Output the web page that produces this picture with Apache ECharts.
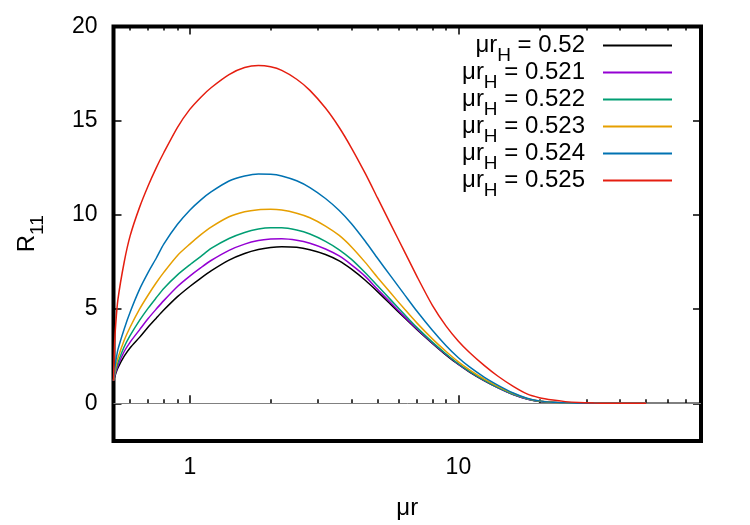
<!DOCTYPE html>
<html>
<head>
<meta charset="utf-8">
<script src="https://cdn.jsdelivr.net/npm/echarts@6/dist/echarts.min.js"></script>
<style>
html, body { margin: 0; padding: 0; background: #fff; }
#main { width: 750px; height: 525px; }
</style>
</head>
<body>
<div id="main"></div>
<script>
// mu*r sample points (log axis)
var xs = [0.52, 0.525, 0.53, 0.54, 0.57, 0.6, 0.65, 0.7, 0.75, 0.8, 0.9, 1.0, 1.1, 1.2, 1.4, 1.6, 1.8, 2.0, 2.2, 2.5,
          2.8, 3.2, 3.6, 4, 4.5, 5, 5.6, 6.3, 7, 8, 9, 10, 11, 12.5, 14, 16, 18, 20, 22.5, 25, 28, 32, 36, 40, 45, 50, 60, 80];

// R11 for each mu*r_H
var r052  = [1.2, 1.4, 1.57, 1.88, 2.5, 2.95, 3.5, 4.05, 4.52, 4.95, 5.66, 6.2, 6.65, 7.03, 7.6, 7.95, 8.16, 8.27, 8.31, 8.28,
             8.15, 7.9, 7.56, 7.12, 6.53, 5.93, 5.25, 4.54, 3.92, 3.18, 2.56, 2.06, 1.66, 1.19, 0.83, 0.46, 0.23, 0.1, 0.05, 0.02,
             0.01, 0, 0, 0, 0, 0, 0, 0];
var r0521 = [1.2, 1.45, 1.65, 2.0, 2.75, 3.25, 3.9, 4.5, 5.0, 5.45, 6.2, 6.75, 7.2, 7.58, 8.12, 8.45, 8.64, 8.72, 8.74, 8.66,
             8.5, 8.19, 7.82, 7.35, 6.74, 6.05, 5.34, 4.6, 3.96, 3.21, 2.59, 2.08, 1.68, 1.2, 0.84, 0.47, 0.23, 0.11, 0.05, 0.025,
             0.01, 0, 0, 0, 0, 0, null, null];
var r0522 = [1.2, 1.5, 1.75, 2.15, 3.0, 3.6, 4.4, 5.05, 5.6, 6.1, 6.82, 7.35, 7.8, 8.22, 8.75, 9.07, 9.25, 9.32, 9.32, 9.2,
             8.99, 8.6, 8.15, 7.64, 6.93, 6.24, 5.49, 4.71, 4.03, 3.25, 2.62, 2.1, 1.7, 1.22, 0.85, 0.48, 0.24, 0.11, 0.05, 0.025,
             0.01, 0, 0, 0, 0, 0, null, null];
var r0523 = [1.2, 1.6, 1.9, 2.4, 3.35, 4.05, 5.0, 5.75, 6.4, 6.95, 7.85, 8.45, 8.95, 9.35, 9.9, 10.17, 10.28, 10.3, 10.26, 10.09,
             9.85, 9.41, 8.91, 8.3, 7.48, 6.68, 5.85, 5.0, 4.27, 3.42, 2.75, 2.2, 1.78, 1.28, 0.9, 0.52, 0.26, 0.12, 0.06, 0.03,
             0.01, 0, 0, 0, 0, 0, null, null];
var r0524 = [1.2, 1.8, 2.2, 2.85, 3.95, 4.85, 6.05, 6.95, 7.7, 8.45, 9.5, 10.25, 10.8, 11.22, 11.8, 12.06, 12.17, 12.16, 12.07, 11.81,
             11.45, 10.87, 10.23, 9.53, 8.6, 7.7, 6.75, 5.77, 4.9, 3.88, 3.06, 2.42, 1.93, 1.38, 0.97, 0.55, 0.27, 0.13, 0.06, 0.03,
             0.01, 0, 0, 0, 0, 0, null, null];
var r0525 = [1.2, 3.2, 4.2, 5.5, 7.5, 8.9, 10.4, 11.55, 12.5, 13.3, 14.65, 15.6, 16.25, 16.75, 17.45, 17.82, 17.93, 17.86, 17.67, 17.2,
             16.61, 15.67, 14.64, 13.55, 12.2, 10.9, 9.5, 8.05, 6.75, 5.2, 4.1, 3.3, 2.7, 2.0, 1.45, 0.9, 0.5, 0.3, 0.17, 0.09,
             0.04, 0.015, 0.005, 0, 0, 0, null, null];

var rH = ['0.52', '0.521', '0.522', '0.523', '0.524', '0.525'];
var curves = [r052, r0521, r0522, r0523, r0524, r0525];
var colors = ['#000000', '#9400d3', '#009e73', '#e69f00', '#0072b2', '#e51e10'];

var xMajor = [1, 10];
var xMinor = [0.6, 0.7, 0.8, 0.9, 2, 3, 4, 5, 6, 7, 8, 9, 20, 30, 40, 50, 60, 70, 80];
var yTicks = [0, 5, 10, 15, 20];

var font = 'Liberation Sans, Arial, Helvetica, sans-serif';

var myChart = echarts.init(document.getElementById('main'));

function xAx(pos, ticks, len, label) {
    return {
        type: 'log', logBase: 10, min: 0.52, max: 80, position: pos,
        axisLine: { show: false },
        splitLine: { show: false },
        axisTick: { show: true, inside: true, length: len, customValues: ticks,
                    lineStyle: { color: '#000', width: 1.5 } },
        axisLabel: label ? { customValues: ticks, fontSize: 23, color: '#000', fontFamily: font, margin: 15 }
                         : { show: false }
    };
}

var xAxes = [xAx('bottom', xMajor, 8, true), xAx('bottom', xMinor, 4, false),
             xAx('top', xMajor, 8, false), xAx('top', xMinor, 4, false)];
xAxes[0].name = 'μr';
xAxes[0].nameLocation = 'middle';
xAxes[0].nameGap = 55;
xAxes[0].nameTextStyle = { fontSize: 24, color: '#000', fontFamily: font };

// subscript: smaller token pushed down by top padding
var subRich = {
    a: { fontSize: 24, lineHeight: 24, color: '#000', fontFamily: font },
    s: { fontSize: 19, lineHeight: 18, padding: [20, 0, 0, 0], color: '#000', fontFamily: font },
    b: { fontSize: 24, lineHeight: 24, color: '#000', fontFamily: font, padding: [0, 13, 0, 0] }
};

function yAx(pos, label) {
    return {
        type: 'value', min: -2, max: 20, position: pos,
        axisLine: { show: false },
        splitLine: { show: false },
        axisTick: { show: true, inside: true, length: 8, customValues: yTicks,
                    lineStyle: { color: '#000', width: 1.5 } },
        axisLabel: label ? { customValues: yTicks, fontSize: 23, color: '#000', fontFamily: font, margin: 16 }
                         : { show: false }
    };
}
var yAxes = [yAx('left', true), yAx('right', false)];
yAxes[0].name = '{a|R}{s|11}';
yAxes[0].nameLocation = 'middle';
yAxes[0].nameRotate = 90;
yAxes[0].nameGap = 74;
yAxes[0].nameTextStyle = { rich: subRich };

var series = [{
    name: 'zero', type: 'line', data: [], z: 1, silent: true,
    markLine: { silent: true, symbol: 'none', label: { show: false },
                lineStyle: { color: '#808080', width: 1, type: 'solid' },
                data: [{ yAxis: 0 }] }
}];
curves.forEach(function (c, i) {
    series.push({
        name: 'μr_H = ' + rH[i],
        type: 'line', z: 2 + i,
        data: xs.map(function (x, k) { return [x, c[k]]; }),
        showSymbol: false, smooth: 0.25,
        lineStyle: { color: colors[i], width: 1.5 },
        itemStyle: { color: colors[i] }
    });
});

var option = {
    animation: false,
    backgroundColor: '#fff',
    grid: { left: 113, right: 49, top: 26.5, bottom: 84, show: true,
            borderColor: '#000', borderWidth: 4, backgroundColor: 'transparent' },
    legend: {
        data: rH.map(function (r) { return 'μr_H = ' + r; }),
        orient: 'vertical', right: 78, top: 26, align: 'right',
        icon: 'rect', itemWidth: 69, itemHeight: 2, itemGap: -12, padding: 0,
        selectedMode: false,
        textStyle: { rich: subRich },
        formatter: function (name) {
            return '{a|μr}{s|H}{b| = ' + name.split('= ')[1] + '}';
        }
    },
    xAxis: xAxes,
    yAxis: yAxes,
    series: series
};

myChart.setOption(option);
</script>
</body>
</html>
